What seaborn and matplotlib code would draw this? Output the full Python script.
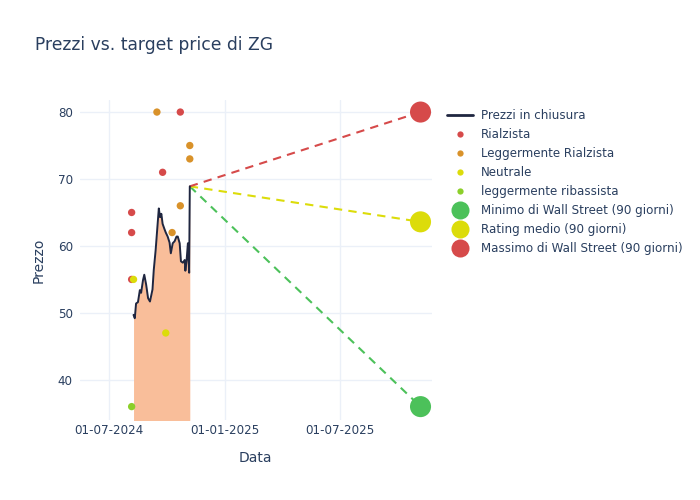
import pandas as pd
import matplotlib
matplotlib.use('Agg')
import matplotlib.pyplot as plt
import matplotlib.dates as mdates
from matplotlib.lines import Line2D
import seaborn as sns

# closing prices
price_dates = ['2024-08-09', '2024-08-11', '2024-08-13', '2024-08-16', '2024-08-19', '2024-08-21',
               '2024-08-24', '2024-08-26', '2024-08-29', '2024-09-01', '2024-09-04', '2024-09-08',
               '2024-09-10', '2024-09-13', '2024-09-15', '2024-09-18', '2024-09-20', '2024-09-22',
               '2024-09-24', '2024-09-27', '2024-09-29', '2024-10-02', '2024-10-05', '2024-10-07',
               '2024-10-10', '2024-10-13', '2024-10-16', '2024-10-18', '2024-10-21', '2024-10-23',
               '2024-10-26', '2024-10-29', '2024-10-30', '2024-11-01', '2024-11-03', '2024-11-05',
               '2024-11-06']
price_values = [49.7, 49.2, 51.4, 51.6, 53.4, 53.0,
                54.9, 55.7, 54.2, 52.2, 51.7, 53.5,
                56.4, 59.4, 61.9, 65.6, 64.3, 64.8,
                63.3, 62.5, 62.0, 61.4, 60.5, 58.9,
                60.4, 60.7, 61.4, 61.4, 60.4, 57.7,
                57.5, 57.9, 56.3, 57.9, 60.4, 56.0,
                68.9]

# analyst ratings
rating_dates = ['2024-08-06', '2024-08-06', '2024-08-06', '2024-09-24', '2024-10-22',
                '2024-09-15', '2024-11-06', '2024-11-06', '2024-10-22', '2024-10-09',
                '2024-08-09', '2024-09-29',
                '2024-08-06']
rating_values = [65, 62, 55, 71, 80,
                 80, 75, 73, 66, 62,
                 55, 47,
                 36]
rating_labels = ['Rialzista'] * 5 + ['Leggermente Rialzista'] * 5 + ['Neutrale'] * 2 + ['leggermente ribassista']

# 90-day targets
target_date = '2025-11-06'
target_names = ['Minimo di Wall Street (90 giorni)', 'Rating medio (90 giorni)', 'Massimo di Wall Street (90 giorni)']
target_values = [36, 63.6, 80]

rating_colors = {'Rialzista': '#d64a4a', 'Leggermente Rialzista': '#d9922a',
                 'Neutrale': '#dcdc0a', 'leggermente ribassista': '#8ccf2a'}
target_colors = ['#4cc15a', '#dcdc0a', '#d64a4a']
text_color = '#2a3f5f'

sns.set_theme(style='whitegrid')
plt.rcParams['font.family'] = ['DejaVu Sans']

prices = pd.DataFrame({'date': pd.to_datetime(price_dates), 'price': price_values})
ratings = pd.DataFrame({'date': pd.to_datetime(rating_dates), 'value': rating_values, 'rating': rating_labels})
t_date = pd.to_datetime(target_date)

fig = plt.figure(figsize=(7, 5), dpi=100)
ax = fig.add_axes([0.114, 0.16, 0.503, 0.64])

ax.fill_between(prices['date'], prices['price'], 0, color='#f9be9a', linewidth=0, zorder=1)
sns.lineplot(data=prices, x='date', y='price', color='#1f2640', linewidth=1.4, ax=ax, zorder=3)

last_date = prices['date'].iloc[-1]
last_price = prices['price'].iloc[-1]
for val, col in zip(target_values, target_colors):
    ax.plot([last_date, t_date], [last_price, val], color=col, linewidth=1.5,
            linestyle=(0, (4, 3)), zorder=2)

sns.scatterplot(data=ratings, x='date', y='value', hue='rating', palette=rating_colors,
                s=28, linewidth=0, legend=False, ax=ax, zorder=4)
ax.scatter([t_date] * 3, target_values, s=230, c=target_colors, linewidths=0, zorder=5)

ax.set_xlim(pd.Timestamp('2024-05-16'), pd.Timestamp('2025-11-24'))
ax.set_ylim(34.0, 81.8)
ax.set_yticks([40, 50, 60, 70, 80])
ax.xaxis.set_major_locator(mdates.MonthLocator(bymonth=[1, 7], bymonthday=1))
ax.xaxis.set_major_formatter(mdates.DateFormatter('%d-%m-%Y'))

ax.set_facecolor('white')
ax.grid(True, color='#ebf0f8', linewidth=1)
for s in ax.spines.values():
    s.set_visible(False)
ax.tick_params(axis='both', colors=text_color, labelsize=8.6, length=0)
ax.tick_params(axis='x', pad=3)
ax.tick_params(axis='y', pad=5)
ax.set_xlabel('Data', color=text_color, fontsize=10, labelpad=10)
ax.set_ylabel('Prezzo', color=text_color, fontsize=10, labelpad=9)

fig.text(0.05, 0.91, 'Prezzi vs. target price di ZG', color=text_color, fontsize=12.3, va='center')

handles = [Line2D([0], [0], color='#1f2640', linewidth=2, label='Prezzi in chiusura')]
for lab, col in rating_colors.items():
    handles.append(Line2D([0], [0], marker='o', linestyle='', markersize=4.5,
                          markerfacecolor=col, markeredgewidth=0, label=lab))
for lab, col in zip(target_names, target_colors):
    handles.append(Line2D([0], [0], marker='o', linestyle='', markersize=13,
                          markerfacecolor=col, markeredgewidth=0, label=lab))
leg = fig.legend(handles=handles, loc='upper left', bbox_to_anchor=(0.632, 0.791),
                 frameon=False, fontsize=8.6, labelspacing=0.5, handlelength=2.2,
                 handletextpad=0.6, borderaxespad=0)
for t in leg.get_texts():
    t.set_color(text_color)

fig.savefig('out.png', dpi=100, facecolor='white')
